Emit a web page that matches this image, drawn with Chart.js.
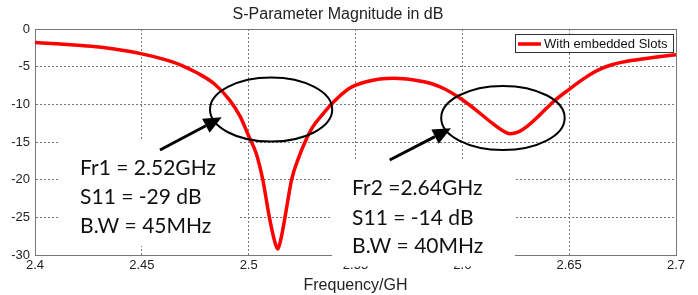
<!DOCTYPE html>
<html>
<head>
<meta charset="utf-8">
<script src="https://cdn.jsdelivr.net/npm/chart.js@4.4.1/dist/chart.umd.min.js"></script>
<style>
  html, body { margin: 0; padding: 0; background: #fff; }
  #wrap { width: 698px; height: 295px; }
</style>
</head>
<body>
<div id="wrap"><canvas id="chart" width="698" height="295"></canvas></div>
<script>
// values
const freqGHz = [2.400, 2.410, 2.420, 2.430, 2.440, 2.450, 2.460, 2.468, 2.476, 2.484,
  2.491, 2.496, 2.500, 2.5035, 2.5066, 2.5097, 2.512, 2.5136, 2.515, 2.517,
  2.5201, 2.5235, 2.5264, 2.530, 2.535, 2.539, 2.547, 2.555, 2.568, 2.578,
  2.585, 2.592, 2.600, 2.607, 2.614, 2.619, 2.6223, 2.626, 2.630, 2.6363,
  2.6426, 2.650, 2.655, 2.660, 2.665, 2.670, 2.675, 2.680, 2.690, 2.700]
const s11dB = [-1.8, -1.95, -2.15, -2.4, -2.8, -3.3, -4.0, -4.75, -5.85, -7.3,
  -9.4, -11.6, -14.2, -16.5, -20, -25, -28, -29.2, -28, -25,
  -20, -17, -15, -13, -11.2, -9.9, -7.9, -7.0, -6.55, -6.8,
  -7.2, -8.0, -9.4, -10.9, -12.5, -13.5, -13.9, -13.7, -13.0, -11.4,
  -9.65, -8.0, -6.95, -6.0, -5.25, -4.75, -4.4, -4.15, -3.75, -3.4]

const xTicks = [2.4, 2.45, 2.5, 2.55, 2.6, 2.65, 2.7]
const yTicks = [0, -5, -10, -15, -20, -25, -30]

const seriesLabel = 'With embedded Slots'
const chartTitle = 'S-Parameter Magnitude in dB'
const xTitle = 'Frequency/GH'

const noteLines = [
  ['Fr1 = 2.52GHz', 'S11 = -29 dB', 'B.W = 45MHz'],
  ['Fr2 =2.64GHz', 'S11 = -14 dB', 'B.W = 40MHz']
]

// annotation placement, in axis units
const ellipses = [
  { cx: 2.5105, cy: -10.7, rx: 0.0286, ry: 4.25 },
  { cx: 2.619, cy: -11.8, rx: 0.0289, ry: 4.25 }
]
const arrows = [
  { from: [2.4585, -16.06], to: [2.4874, -11.72] },
  { from: [2.566, -17.39], to: [2.5947, -13.18] }
]
const noteBoxes = [
  { x0: 2.4108, x1: 2.4959, y0: -14.6, y1: -28.8 },
  { x0: 2.539, x1: 2.6246, y0: -17.39, y1: -31.5 }
]
const noteText = [
  { x: 2.4211, ys: [-19.38, -23.23, -27.08] },
  { x: 2.5484, ys: [-22.04, -26.02, -29.74] }
]

const axisColor = '#777'
const gridColor = '#777'
const lineRed = '#ff0000'

const notesPlugin = {
  id: 'notes',
  afterDraw(chart) {
    const { ctx, chartArea: a, scales: { x, y } } = chart
    const px = v => x.getPixelForValue(v)
    const py = v => y.getPixelForValue(v)
    ctx.save()

    // top and right sides of the box
    ctx.strokeStyle = axisColor
    ctx.lineWidth = 1
    ctx.beginPath()
    ctx.moveTo(a.left, a.top + 0.5)
    ctx.lineTo(a.right + 0.5, a.top + 0.5)
    ctx.lineTo(a.right + 0.5, a.bottom)
    ctx.stroke()

    // legend
    const lx = a.right - 161, ly = a.top + 5, lw = 158, lh = 18
    ctx.fillStyle = '#fff'
    ctx.fillRect(lx, ly, lw, lh)
    ctx.strokeStyle = '#333'
    ctx.strokeRect(lx + 0.5, ly + 0.5, lw, lh)
    ctx.strokeStyle = lineRed
    ctx.lineWidth = 3.5
    ctx.beginPath()
    ctx.moveTo(lx + 3, ly + 10)
    ctx.lineTo(lx + 26, ly + 10)
    ctx.stroke()
    ctx.fillStyle = '#111'
    ctx.font = '13px "Liberation Sans", Arial, sans-serif'
    ctx.textBaseline = 'middle'
    ctx.textAlign = 'left'
    ctx.fillText(seriesLabel, lx + 29, ly + 10)

    // white boxes behind the notes
    ctx.fillStyle = '#fff'
    noteBoxes.forEach(b => {
      ctx.fillRect(px(b.x0), py(b.y0), px(b.x1) - px(b.x0), py(b.y1) - py(b.y0))
    })

    ctx.fillStyle = '#111'
    ctx.font = '21px Lato, "Open Sans", sans-serif'
    ctx.textBaseline = 'alphabetic'
    noteText.forEach((t, i) => {
      noteLines[i].forEach((s, j) => ctx.fillText(s, px(t.x), py(t.ys[j])))
    })

    // ellipses
    ctx.strokeStyle = '#000'
    ctx.lineWidth = 2
    ellipses.forEach(e => {
      const cx = px(e.cx), cy = py(e.cy)
      ctx.beginPath()
      ctx.ellipse(cx, cy, px(e.cx + e.rx) - cx, py(e.cy - e.ry) - cy, 0, 0, Math.PI * 2)
      ctx.stroke()
    })

    // arrows
    ctx.fillStyle = '#000'
    ctx.lineWidth = 3
    arrows.forEach(r => {
      const sx = px(r.from[0]), sy = py(r.from[1])
      const tx = px(r.to[0]), ty = py(r.to[1])
      const len = Math.hypot(tx - sx, ty - sy)
      const dx = (tx - sx) / len, dy = (ty - sy) / len
      const bx = tx - dx * 18, by = ty - dy * 18
      ctx.beginPath()
      ctx.moveTo(sx, sy)
      ctx.lineTo(bx, by)
      ctx.stroke()
      ctx.beginPath()
      ctx.moveTo(tx, ty)
      ctx.lineTo(bx - dy * 8, by + dx * 8)
      ctx.lineTo(bx + dy * 8, by - dx * 8)
      ctx.closePath()
      ctx.fill()
    })
    ctx.restore()
  }
}

new Chart(document.getElementById('chart'), {
  type: 'line',
  data: {
    datasets: [{
      label: seriesLabel,
      data: freqGHz.map((f, i) => ({ x: f, y: s11dB[i] })),
      borderColor: lineRed,
      borderWidth: 3.5,
      pointRadius: 0,
      fill: false,
      cubicInterpolationMode: 'monotone'
    }]
  },
  options: {
    responsive: false,
    animation: false,
    layout: { padding: { left: 0, right: 22, top: 0, bottom: 0 } },
    plugins: {
      legend: { display: false },
      tooltip: { enabled: false },
      title: {
        display: true,
        text: chartTitle,
        color: '#222',
        font: { family: '"Liberation Sans", Arial, sans-serif', size: 16, weight: 'normal', lineHeight: 1 },
        padding: { top: 7, bottom: 6 }
      }
    },
    scales: {
      x: {
        type: 'linear',
        min: 2.4,
        max: 2.7,
        afterBuildTicks: s => { s.ticks = xTicks.map(v => ({ value: v })) },
        afterFit: s => { s.height = 40 },
        ticks: {
          callback: v => String(v),
          color: '#222',
          font: { family: '"Liberation Sans", Arial, sans-serif', size: 13 },
          padding: 3,
          maxRotation: 0,
          autoSkip: false
        },
        grid: { color: gridColor, drawTicks: false },
        border: { color: axisColor, dash: [2, 2] },
        title: {
          display: true,
          text: xTitle,
          color: '#222',
          font: { family: '"Liberation Sans", Arial, sans-serif', size: 16, lineHeight: 1.2 },
          padding: { top: 0, bottom: 0 }
        }
      },
      y: {
        min: -30,
        max: 0,
        afterBuildTicks: s => { s.ticks = yTicks.map(v => ({ value: v })) },
        afterFit: s => { s.width = 35 },
        ticks: {
          callback: v => String(v),
          color: '#222',
          font: { family: '"Liberation Sans", Arial, sans-serif', size: 13 },
          padding: 5
        },
        grid: { color: gridColor, drawTicks: false },
        border: { color: axisColor, dash: [2, 2] }
      }
    }
  },
  plugins: [notesPlugin]
})
</script>
</body>
</html>
